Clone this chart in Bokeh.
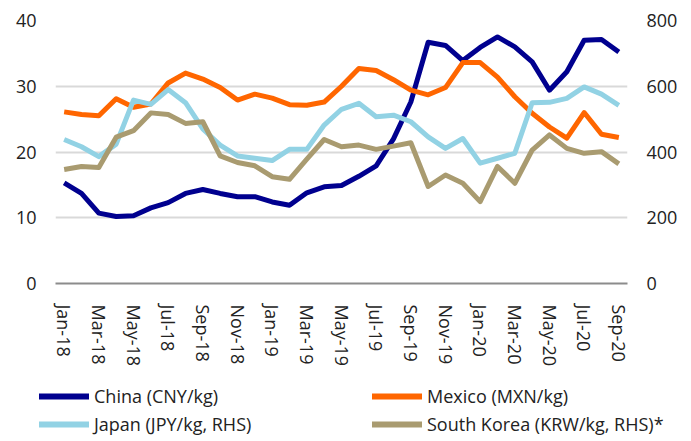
from bokeh.plotting import figure
from bokeh.layouts import column
from bokeh.models import Range1d, LinearAxis, FixedTicker, Legend, LegendItem
from bokeh.embed import file_html
from bokeh.resources import INLINE

months = ["Jan-18", "Feb-18", "Mar-18", "Apr-18", "May-18", "Jun-18", "Jul-18", "Aug-18",
          "Sep-18", "Oct-18", "Nov-18", "Dec-18", "Jan-19", "Feb-19", "Mar-19", "Apr-19",
          "May-19", "Jun-19", "Jul-19", "Aug-19", "Sep-19", "Oct-19", "Nov-19", "Dec-19",
          "Jan-20", "Feb-20", "Mar-20", "Apr-20", "May-20", "Jun-20", "Jul-20", "Aug-20",
          "Sep-20"]

china = [15.3, 13.7, 10.7, 10.2, 10.3, 11.5, 12.3, 13.7, 14.3, 13.7, 13.2, 13.2, 12.4, 11.9,
         13.8, 14.7, 14.9, 16.3, 17.9, 22.0, 27.6, 36.7, 36.2, 33.9, 35.9, 37.5, 36.0, 33.7,
         29.4, 32.2, 37.0, 37.1, 35.2]
mexico = [26.1, 25.7, 25.5, 28.1, 26.8, 27.3, 30.5, 32.0, 31.1, 29.8, 27.9, 28.8, 28.2, 27.2,
          27.1, 27.6, 30.0, 32.7, 32.4, 31.0, 29.4, 28.7, 29.8, 33.6, 33.6, 31.4, 28.4, 25.9,
          23.8, 22.1, 26.0, 22.7, 22.2]
japan = [438, 416, 386, 424, 558, 545, 590, 550, 470, 421, 388, 381, 374, 408, 408, 482, 530,
         548, 507, 512, 492, 446, 411, 441, 366, 381, 396, 550, 551, 563, 598, 576, 542]
korea = [347, 356, 353, 445, 465, 519, 514, 487, 492, 388, 368, 358, 325, 317, 378, 438, 416,
         421, 408, 418, 428, 295, 330, 305, 249, 356, 305, 406, 452, 411, 396, 401, 364]

left_ticks = [0, 10, 20, 30, 40]
right_ticks = [0, 200, 400, 600, 800]
labels = ["China (CNY/kg)", "Mexico (MXN/kg)", "Japan (JPY/kg, RHS)",
          "South Korea (KRW/kg, RHS)*"]
colors = ["#00008f", "#ff6600", "#92d2e4", "#a99b70"]

FONT = "Open Sans"
FS = "18px"
TXT = "#222222"
W = 683

x = list(range(len(months)))

p = figure(width=W, height=369, output_backend="svg", toolbar_location=None,
           x_range=Range1d(-0.5, len(months) - 0.5), y_range=Range1d(0, 40),
           min_border_left=55, min_border_right=56, min_border_top=20,
           min_border_bottom=85)
p.frame_align = False
p.outline_line_color = None
p.extra_y_ranges = {"rhs": Range1d(0, 800)}

p.xgrid.visible = False
p.ygrid.grid_line_color = "#d9d9d9"
p.ygrid.grid_line_width = 2
p.ygrid.ticker = FixedTicker(ticks=left_ticks)

xa = p.xaxis[0]
xa.ticker = FixedTicker(ticks=x[::2])
xa.major_label_overrides = {i: months[i] for i in x[::2]}
xa.major_label_orientation = "vertical"
xa.axis_line_color = "#8c8c8c"
xa.axis_line_width = 2
xa.major_tick_line_color = None
xa.minor_tick_line_color = None
xa.major_label_standoff = 15

ya = p.yaxis[0]
ya.ticker = FixedTicker(ticks=left_ticks)

ra = LinearAxis(y_range_name="rhs", ticker=FixedTicker(ticks=right_ticks))
p.add_layout(ra, "right")

for ax in (ya, ra):
    ax.axis_line_color = None
    ax.major_tick_line_color = None
    ax.minor_tick_line_color = None
    ax.major_tick_out = 0
    ax.major_tick_in = 0
    ax.minor_tick_out = 0
    ax.major_label_standoff = 19

for ax in (xa, ya, ra):
    ax.major_label_text_font = FONT
    ax.major_label_text_font_size = FS
    ax.major_label_text_color = TXT

p.line(x, china, line_color=colors[0], line_width=5, line_join="round")
p.line(x, mexico, line_color=colors[1], line_width=5, line_join="round")
p.line(x, japan, line_color=colors[2], line_width=5, line_join="round", y_range_name="rhs")
p.line(x, korea, line_color=colors[3], line_width=5, line_join="round", y_range_name="rhs")

# ---- legend strip (separate figure so the legend is not clipped by the plot frame) ----
lg = figure(width=W, height=68, output_backend="svg", toolbar_location=None,
            x_range=Range1d(0, 1), y_range=Range1d(0, 1),
            x_axis_location=None, y_axis_location=None,
            min_border_left=0, min_border_right=0, min_border_top=0, min_border_bottom=0)
lg.frame_align = False
lg.outline_line_color = None
lg.xgrid.visible = False
lg.ygrid.visible = False

# single-point helper lines: draw nothing themselves, only provide legend swatches
swatches = [lg.line([0], [0], line_color=c, line_width=6, line_cap="round") for c in colors]


def make_legend(idx, loc):
    return Legend(items=[LegendItem(label=labels[i], renderers=[swatches[i]]) for i in idx],
                  location=loc, orientation="vertical",
                  glyph_width=50, glyph_height=20, label_standoff=5,
                  label_height=20, spacing=4, padding=0, margin=0,
                  border_line_color=None, background_fill_alpha=0,
                  label_text_font=FONT, label_text_font_size=FS, label_text_color=TXT)


lg.add_layout(make_legend([0, 2], (39, 1)))
lg.add_layout(make_legend([1, 3], (372, 1)))

open("out.html", "w").write(file_html(column(p, lg, spacing=0), INLINE))
